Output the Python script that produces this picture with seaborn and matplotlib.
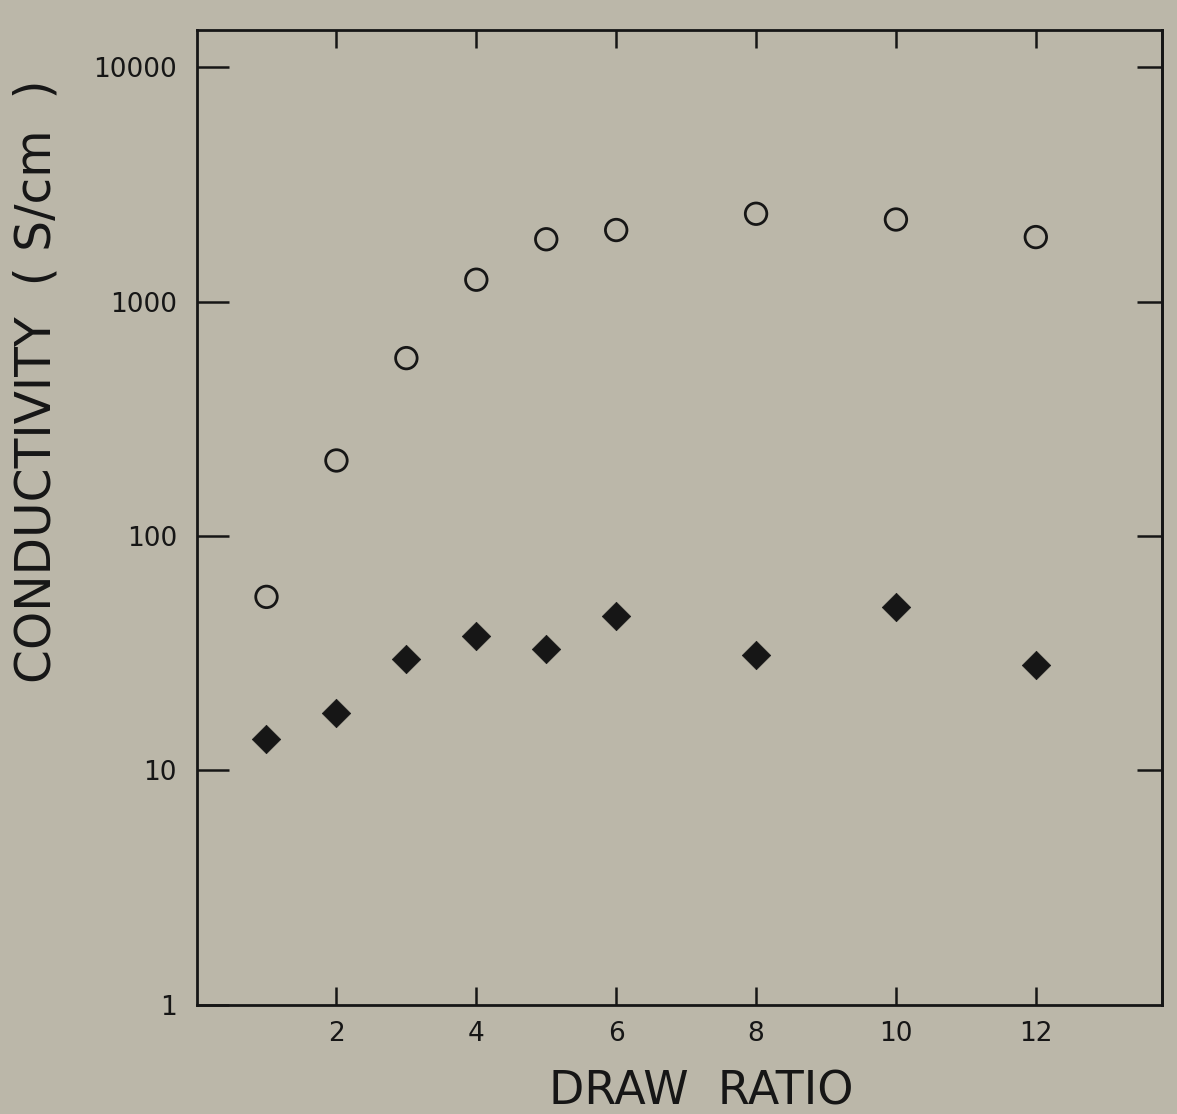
import numpy as np
import pandas as pd
import matplotlib
matplotlib.use("Agg")
import matplotlib.pyplot as plt
import seaborn as sns
from matplotlib.ticker import FixedLocator, NullLocator, FixedFormatter, NullFormatter

# ---- data ----
draw_ratio = [1, 2, 3, 4, 5, 6, 8, 10, 12]
cond_open = [55, 210, 574, 1240, 1845, 2020, 2370, 2240, 1885]      # open circles
cond_filled = [13.6, 17.6, 30.0, 37.6, 32.8, 45.5, 31.2, 50.0, 28.1]  # filled diamonds

x_ticks = [2, 4, 6, 8, 10, 12]
x_tick_labels = ["2", "4", "6", "8", "10", "12"]
y_ticks = [1, 10, 100, 1000, 10000]
y_tick_labels = ["1", "10", "100", "1000", "10000"]
right_ticks = [10, 100, 1000, 10000]

BG = "#BBB7A9"
INK = "#161616"

sns.set_theme(style="ticks")
plt.rcParams["font.family"] = ["DejaVu Sans"]

fig = plt.figure(figsize=(11.77, 11.14), dpi=100, facecolor=BG)
ax = fig.add_axes([0.167, 0.098, 0.820, 0.875])
ax.set_facecolor(BG)

df_open = pd.DataFrame({"x": draw_ratio, "y": cond_open})
df_fill = pd.DataFrame({"x": draw_ratio, "y": cond_filled})

sns.scatterplot(data=df_open, x="x", y="y", ax=ax, marker="o", s=240,
                facecolors="none", edgecolor=INK, linewidth=2.0, zorder=3)
sns.scatterplot(data=df_fill, x="x", y="y", ax=ax, marker="D", s=210,
                color=INK, edgecolor=INK, linewidth=0.5, zorder=3)

ax.set_yscale("log")
ax.set_xlim(0, 13.8)
ax.set_ylim(1, 14400)

ax.xaxis.set_major_locator(FixedLocator(x_ticks))
ax.xaxis.set_major_formatter(FixedFormatter(x_tick_labels))
ax.xaxis.set_minor_locator(NullLocator())
ax.yaxis.set_major_locator(FixedLocator(y_ticks))
ax.yaxis.set_major_formatter(FixedFormatter(y_tick_labels))
ax.yaxis.set_minor_locator(NullLocator())

for sp in ax.spines.values():
    sp.set_visible(True)
    sp.set_color(INK)
    sp.set_linewidth(2.0)

ax.tick_params(axis="x", which="major", direction="in", length=13, width=1.8,
               color=INK, top=True, bottom=True, labelsize=19, pad=12,
               labelcolor=INK)
ax.tick_params(axis="y", which="major", direction="in", length=23, width=1.8,
               color=INK, left=True, right=False, labelsize=19, pad=14,
               labelcolor=INK)

# right-hand decade ticks (shorter than the left ones)
sec = ax.secondary_yaxis("right")
sec.yaxis.set_major_locator(FixedLocator(right_ticks))
sec.yaxis.set_minor_locator(NullLocator())
sec.yaxis.set_major_formatter(NullFormatter())
sec.tick_params(axis="y", which="major", direction="in", length=18, width=1.8,
                color=INK)
sec.spines["right"].set_color(INK)
sec.spines["right"].set_linewidth(2.0)

ax.set_xlabel("DRAW  RATIO", fontsize=33, color=INK, labelpad=16, x=0.523)
ax.set_ylabel("CONDUCTIVITY  ( S/cm  )", fontsize=35, color=INK, labelpad=24, y=0.64)

fig.savefig("out.png", dpi=100, facecolor=BG)
